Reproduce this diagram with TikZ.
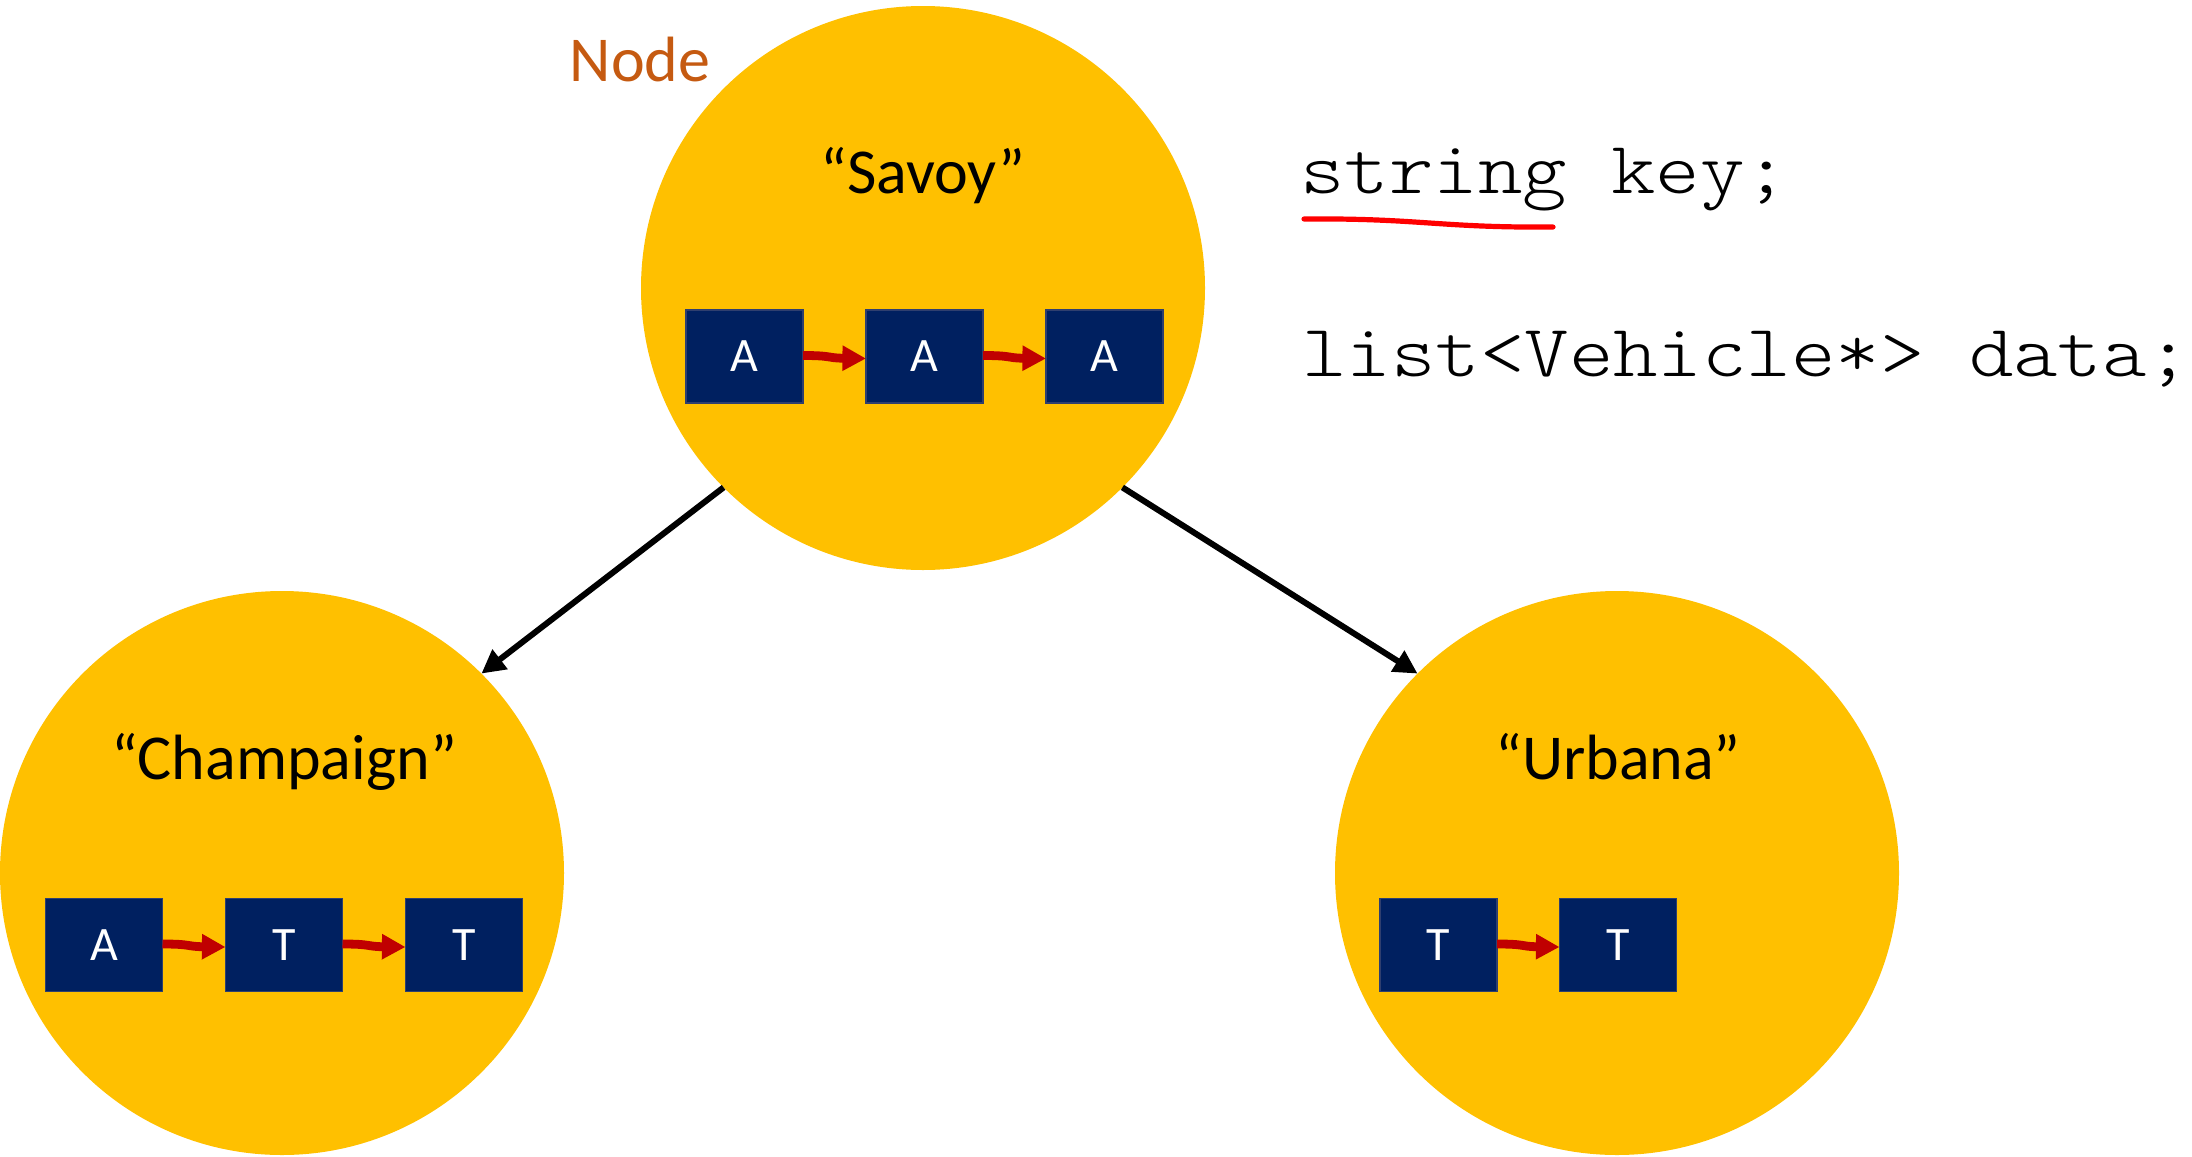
\documentclass[tikz,border=0pt]{standalone}
\usepackage{fontspec}
\setmainfont{Carlito}
\newfontfamily\codefont{lmmonolt10-regular.otf}[FakeStretch=1.144]
\usetikzlibrary{arrows.meta}
\definecolor{gold}{HTML}{FFC000}
\definecolor{navy}{HTML}{002060}
\definecolor{navyedge}{HTML}{2F3F6F}
\definecolor{darkred}{HTML}{C00000}
\definecolor{rust}{HTML}{C55A11}
\definecolor{ink}{HTML}{FF0000}

\begin{document}
\begin{tikzpicture}[x=0.5pt,y=-0.5pt,
  citycircle/.style={circle,fill=gold,minimum size=282pt,inner sep=0pt,outer sep=0pt},
  listcell/.style={rectangle,fill=navy,draw=navyedge,line width=0.6pt,
    minimum width=58.5pt,minimum height=46.5pt,inner sep=0pt,outer sep=0pt,
    text height=15pt,text depth=0pt,
    text=white,font=\fontsize{24}{28}\selectfont},
  citylabel/.style={anchor=base,inner sep=0pt,font=\fontsize{32}{38}\selectfont},
  chainlink/.style={draw=darkred,line width=4.4pt,-{Triangle[length=11.8pt,width=12pt]}},
  treelink/.style={draw=black,line width=3pt,-{Triangle[length=11.8pt,width=11.8pt]}},
  codeline/.style={anchor=base west,inner sep=0pt,font=\codefont\fontsize{37}{44}\selectfont}]

\useasboundingbox (0,0) rectangle (2192,1157);

% tree nodes
\node[citycircle] (top)   at (923,288) {};
\node[citycircle] (left)  at (282,873) {};
\node[citycircle] (right) at (1617,873) {};

% keys
\node[citylabel] (ksavoy) at (923,193) {“Savoy”};
\node[citylabel] (kchamp) at (284,779) {“Champaign”};
\node[citylabel] (kurb)   at (1618,779) {“Urbana”};

% vehicle lists
\node[listcell] (s1) at (744.5,356.5) {A};
\node[listcell] (s2) at (924.5,356.5) {A};
\node[listcell] (s3) at (1104.5,356.5) {A};

\node[listcell] (c1) at (104,945) {A};
\node[listcell] (c2) at (284,945) {T};
\node[listcell] (c3) at (464,945) {T};

\node[listcell] (u1) at (1438.5,945) {T};
\node[listcell] (u2) at (1618,945) {T};

\tikzset{chainstep/.style={chainlink,to path={([yshift=0.5pt]\tikztostart.east)
  .. controls +(30,0) and +(-40,-0.5) .. ([yshift=-1pt]\tikztotarget.west)}}}
\draw[chainstep] (s1) to (s2);
\draw[chainstep] (s2) to (s3);
\draw[chainstep] (c1) to (c2);
\draw[chainstep] (c2) to (c3);
\draw[chainstep] (u1) to (u2);

% children
\draw[treelink] (top.south west) -- (left.north east);
\draw[treelink] (top.south east) -- (right.north west);

% title
\node[anchor=base,inner sep=0pt,text=rust,font=\fontsize{32}{38}\selectfont] (title) at (640,81) {Node};

% member declarations
\node[codeline] (keyline)  at (1300,193) {string key;};
\node[codeline] (dataline) at (1302,376) {list<Vehicle*> data;};

% hand-drawn underline
\coordinate (ulA) at (1304,219);
\coordinate (ulB) at (1553,227);
\draw[ink,line width=2.6pt,line cap=round] (ulA) .. controls (1420,218) and (1440,228) .. (ulB);
\end{tikzpicture}
\end{document}
